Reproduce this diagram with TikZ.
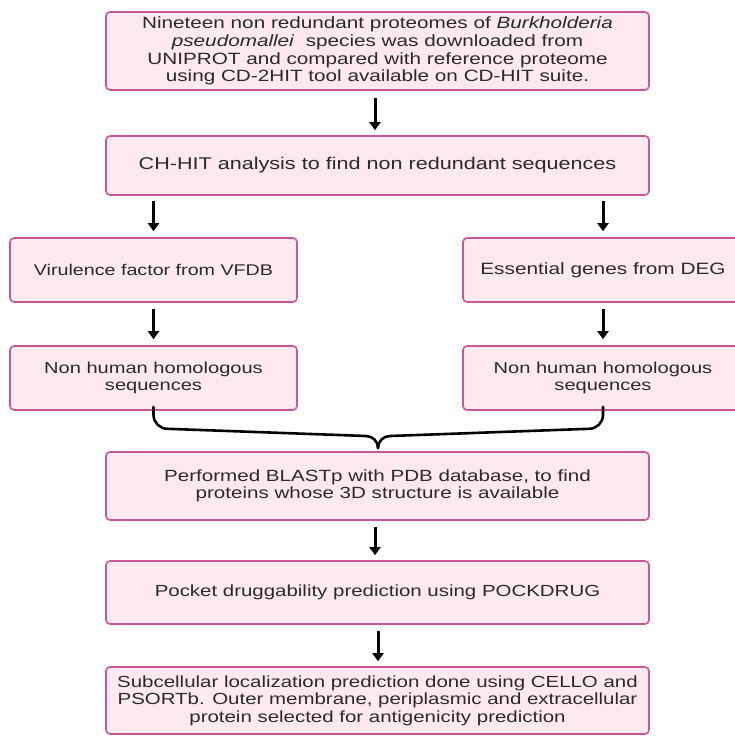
\documentclass[tikz,border=0pt]{standalone}
\usepackage{fontspec}
\setmainfont{Liberation Sans}[FakeStretch=1.27]
\usetikzlibrary{arrows.meta}
\definecolor{boxfill}{HTML}{FDE9EE}
\definecolor{boxline}{HTML}{C9579A}
\definecolor{txt}{HTML}{2A2A2A}
\newcommand{\fs}[1]{\fontsize{#1}{17.6}\selectfont}
\begin{document}
\begin{tikzpicture}[x=1pt,y=-1pt,
  font=\fs{16.2},
  stepbox/.style={draw=boxline, fill=boxfill, line width=1.6pt, rounded corners=4pt,
    align=center, inner sep=0pt, text=txt},
  arr/.style={line width=3pt, -{Triangle[length=8pt,width=11pt]}},
  brace/.style={line width=2.6pt, line cap=round}]
\useasboundingbox (0,0) rectangle (735,736);
\clip (0,0) rectangle (735,736);
\fill[white] (0,0) rectangle (735,736);

\node[stepbox, font=\fs{16.3}, minimum width=543pt, minimum height=78pt] (b1) at (377.5,51)
  {Nineteen non redundant proteomes of \textit{Burkholderia}\\
   \textit{pseudomallei}\ \ species was downloaded from\\
   UNIPROT and compared with reference proteome\\
   using CD-2HIT tool available on CD-HIT suite.};
\node[stepbox, font=\fs{17}, minimum width=543pt, minimum height=59pt] (b2) at (377.5,165.5)
  {CH-HIT analysis to find non redundant sequences};
\node[stepbox, font=\fs{15.5}, minimum width=287pt, minimum height=64pt] (l3) at (153.5,270)
  {Virulence factor from VFDB};
\node[stepbox, font=\fs{16.4}, minimum width=280pt, minimum height=64pt] (r3) at (603,270)
  {Essential genes from DEG};
\node[stepbox, font=\fs{15.8}, minimum width=287pt, minimum height=64pt] (l4) at (153.5,378)
  {Non human homologous\\ sequences};
\node[stepbox, font=\fs{15.8}, minimum width=280pt, minimum height=64pt] (r4) at (603,378)
  {Non human homologous\\ sequences};
\node[stepbox, minimum width=543pt, minimum height=68pt] (b5) at (377.5,486)
  {Performed BLASTp with PDB database, to find\\ proteins whose 3D structure is available};
\node[stepbox, font=\fs{16.1}, minimum width=543pt, minimum height=63pt] (b6) at (377.5,592.5)
  {Pocket druggability prediction using POCKDRUG};
\node[stepbox, font=\fs{16.1}, minimum width=543pt, minimum height=67pt] (b7) at (377.5,700.5)
  {Subcellular localization prediction done using CELLO and\\
   PSORTb. Outer membrane, periplasmic and extracellular\\
   protein selected for antigenicity prediction};

\draw[arr, shorten <=7pt, shorten >=5pt] (b1.south -| 375,0) -- (b2.north -| 375,0);
\draw[arr, shorten <=5pt, shorten >=6pt] (b2.south -| l3) -- (l3.north);
\draw[arr, shorten <=5pt, shorten >=6pt] (b2.south -| r3) -- (r3.north);
\draw[arr, shorten <=6pt, shorten >=6pt] (l3.south) -- (l4.north);
\draw[arr, shorten <=6pt, shorten >=6pt] (r3.south) -- (r4.north);
\draw[arr, shorten <=6pt, shorten >=5pt] (b5.south -| 375,0) -- (b6.north -| 375,0);
\draw[arr, shorten <=6pt, shorten >=5pt] (b6.south -| 378,0) -- (b7.north -| 378,0);

\coordinate (bp) at (378,448);
\draw[brace] ([yshift=4pt]l4.south) -- ++(0,8) to[out=-90,in=180] ++(14,14)
  -- (366,436) to[out=0,in=90] (bp);
\draw[brace] ([yshift=4pt]r4.south) -- ++(0,8) to[out=-90,in=0] ++(-14,14)
  -- (390,436) to[out=180,in=90] (bp);
\end{tikzpicture}
\end{document}
